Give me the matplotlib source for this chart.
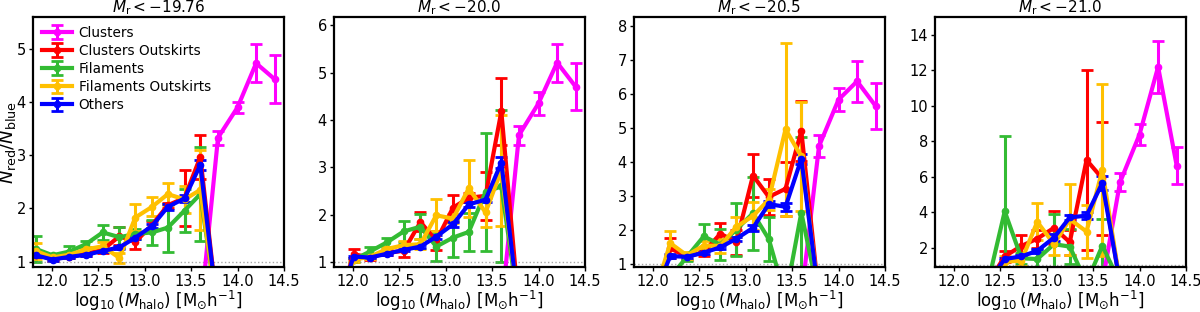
import numpy as np
import matplotlib
matplotlib.use("Agg")
import matplotlib.pyplot as plt

# halo-mass bins (log10 M_halo)
mass_bins = [11.83, 12.01, 12.19, 12.37, 12.55, 12.73, 12.90, 13.08, 13.25, 13.43, 13.60, 13.79, 14.00, 14.20, 14.40]

titles = [r"$M_{\rm r} < -19.76$", r"$M_{\rm r} < -20.0$", r"$M_{\rm r} < -20.5$", r"$M_{\rm r} < -21.0$"]
labels = ["Clusters", "Clusters Outskirts", "Filaments", "Filaments Outskirts", "Others"]
colors = ["#ff00ff", "#ff0000", "#33bb33", "#ffc000", "#0000ff"]

# ---- Panel 1: Mr < -19.76
p1_clusters     = [0, 0, 0, 0, 0, 0, 0, 0, 0, 0, 0, 3.33, 3.90, 4.73, 4.43]
p1_clusters_err = [0, 0, 0, 0, 0, 0, 0, 0, 0, 0, 0, 0.13, 0.10, 0.36, 0.45]
p1_cl_out       = [1.13, 1.05, 1.09, 1.15, 1.22, 1.48, 1.37, 1.69, 2.06, 2.20, 2.97, 0, 0, 0, 0]
p1_cl_out_err   = [0.05, 0.03, 0.03, 0.04, 0.06, 0.17, 0.14, 0.08, 0.05, 0.53, 0.42, 0, 0, 0, 0]
p1_fil          = [1.24, 1.12, 1.19, 1.33, 1.55, 1.46, 1.52, 1.55, 1.64, 1.96, 2.27, 0, 0, 0, 0]
p1_fil_err      = [0.25, 0.03, 0.10, 0.06, 0.14, 0.20, 0.10, 0.23, 0.45, 0.40, 0.88, 0, 0, 0, 0]
p1_fil_out      = [1.20, 1.08, 1.13, 1.23, 1.29, 1.07, 1.83, 2.03, 2.27, 2.17, 2.35, 0, 0, 0, 0]
p1_fil_out_err  = [0.15, 0.03, 0.04, 0.05, 0.08, 0.10, 0.25, 0.18, 0.21, 0.25, 0.75, 0, 0, 0, 0]
p1_others       = [1.12, 1.04, 1.09, 1.13, 1.20, 1.27, 1.45, 1.67, 2.03, 2.19, 2.82, 0, 0, 0, 0]
p1_others_err   = [0.03, 0.02, 0.02, 0.02, 0.02, 0.03, 0.03, 0.04, 0.05, 0.06, 0.10, 0, 0, 0, 0]

# ---- Panel 2: Mr < -20.0
p2_clusters     = [0, 0, 0, 0, 0, 0, 0, 0, 0, 0, 0, 3.68, 4.35, 5.21, 4.70]
p2_clusters_err = [0, 0, 0, 0, 0, 0, 0, 0, 0, 0, 0, 0.20, 0.25, 0.40, 0.50]
p2_cl_out       = [0, 1.17, 1.10, 1.20, 1.24, 1.85, 1.45, 2.15, 2.36, 2.40, 4.18, 0, 0, 0, 0]
p2_cl_out_err   = [0, 0.10, 0.05, 0.05, 0.12, 0.20, 0.20, 0.27, 0.10, 0.50, 0.71, 0, 0, 0, 0]
p2_fil          = [0, 1.05, 1.23, 1.42, 1.65, 1.75, 1.33, 1.52, 1.64, 2.48, 2.60, 0, 0, 0, 0]
p2_fil_err      = [0, 0.05, 0.10, 0.10, 0.22, 0.27, 0.30, 0.40, 0.40, 1.25, 1.60, 0, 0, 0, 0]
p2_fil_out      = [0, 1.05, 1.12, 1.28, 1.36, 1.38, 1.99, 1.92, 2.56, 2.05, 2.94, 0, 0, 0, 0]
p2_fil_out_err  = [0, 0.05, 0.05, 0.05, 0.08, 0.10, 0.34, 0.10, 0.60, 0.30, 1.17, 0, 0, 0, 0]
p2_others       = [0, 1.12, 1.10, 1.18, 1.26, 1.33, 1.54, 1.80, 2.22, 2.32, 3.10, 0, 0, 0, 0]
p2_others_err   = [0, 0.02, 0.02, 0.02, 0.02, 0.03, 0.04, 0.05, 0.06, 0.06, 0.12, 0, 0, 0, 0]

# ---- Panel 3: Mr < -20.5
p3_clusters     = [0, 0, 0, 0, 0, 0, 0, 0, 0, 0, 0, 4.45, 5.82, 6.36, 5.63]
p3_clusters_err = [0, 0, 0, 0, 0, 0, 0, 0, 0, 0, 0, 0.32, 0.34, 0.60, 0.68]
p3_cl_out       = [0, 0, 1.45, 1.20, 1.34, 1.88, 1.63, 3.59, 2.96, 3.20, 4.90, 0, 0, 0, 0]
p3_cl_out_err   = [0, 0, 0.30, 0.08, 0.12, 0.30, 0.37, 0.62, 0.52, 0.80, 0.88, 0, 0, 0, 0]
p3_fil          = [0, 0, 0.60, 1.20, 1.80, 1.56, 2.00, 2.48, 1.72, 0, 2.50, 0, 0, 0, 0]
p3_fil_err      = [0, 0, 0.20, 0.12, 0.35, 0.45, 0.78, 1.08, 0.65, 0, 2.22, 0, 0, 0, 0]
p3_fil_out      = [0, 0, 1.60, 1.24, 1.53, 1.52, 2.08, 2.40, 2.88, 4.95, 4.15, 0, 0, 0, 0]
p3_fil_out_err  = [0, 0, 0.35, 0.10, 0.12, 0.20, 0.30, 0.40, 0.30, 2.55, 1.60, 0, 0, 0, 0]
p3_others       = [0, 0, 1.22, 1.20, 1.32, 1.48, 1.73, 2.05, 2.75, 2.67, 4.08, 0, 0, 0, 0]
p3_others_err   = [0, 0, 0.05, 0.04, 0.05, 0.05, 0.06, 0.08, 0.10, 0.12, 0.15, 0, 0, 0, 0]

# ---- Panel 4: Mr < -21.0
p4_clusters     = [0, 0, 0, 0, 0, 0, 0, 0, 0, 0, 0, 5.68, 8.38, 12.20, 6.62]
p4_clusters_err = [0, 0, 0, 0, 0, 0, 0, 0, 0, 0, 0, 0.50, 0.60, 1.45, 1.05]
p4_cl_out       = [0, 0, 0, 0, 1.50, 2.09, 2.50, 3.11, 2.30, 6.94, 5.90, 0, 0, 0, 0]
p4_cl_out_err   = [0, 0, 0, 0, 0.30, 0.60, 0.50, 0.93, 0.70, 5.10, 3.20, 0, 0, 0, 0]
p4_fil          = [0, 0, 0, 0, 4.04, 1.39, 1.35, 2.19, 2.05, 0, 2.10, 0, 0, 0, 0]
p4_fil_err      = [0, 0, 0, 0, 4.25, 0.30, 0.50, 1.68, 1.00, 0, 1.50, 0, 0, 0, 0]
p4_fil_out      = [0, 0, 0, 0, 1.20, 1.26, 3.45, 2.19, 3.60, 2.90, 6.38, 0, 0, 0, 0]
p4_fil_out_err  = [0, 0, 0, 0, 0.30, 0.30, 1.05, 0.60, 2.00, 1.50, 4.85, 0, 0, 0, 0]
p4_others       = [0, 0, 0, 0, 1.35, 1.50, 1.81, 2.56, 3.70, 3.80, 5.65, 0, 0, 0, 0]
p4_others_err   = [0, 0, 0, 0, 0.08, 0.10, 0.12, 0.18, 0.15, 0.20, 0.40, 0, 0, 0, 0]

panels = [
    [(p1_clusters, p1_clusters_err), (p1_cl_out, p1_cl_out_err), (p1_fil, p1_fil_err), (p1_fil_out, p1_fil_out_err), (p1_others, p1_others_err)],
    [(p2_clusters, p2_clusters_err), (p2_cl_out, p2_cl_out_err), (p2_fil, p2_fil_err), (p2_fil_out, p2_fil_out_err), (p2_others, p2_others_err)],
    [(p3_clusters, p3_clusters_err), (p3_cl_out, p3_cl_out_err), (p3_fil, p3_fil_err), (p3_fil_out, p3_fil_out_err), (p3_others, p3_others_err)],
    [(p4_clusters, p4_clusters_err), (p4_cl_out, p4_cl_out_err), (p4_fil, p4_fil_err), (p4_fil_out, p4_fil_out_err), (p4_others, p4_others_err)],
]

fig = plt.figure(figsize=(12, 3.12), dpi=100)
lefts = [33, 334, 634, 935]
W, H = 1200.0, 312.0
for i, (left, series) in enumerate(zip(lefts, panels)):
    ax = fig.add_axes([left / W, 1 - 267 / H, 251 / W, (267 - 17) / H])
    ymax = 0
    for (vals, errs), lab, col in zip(series, labels, colors):
        v = np.array(vals, dtype=float)
        e = np.array(errs, dtype=float)
        ax.errorbar(mass_bins, v, yerr=e, color=col, lw=3, marker='o', ms=4.5,
                    capsize=4, elinewidth=2.2, capthick=2, label=lab)
        ymax = max(ymax, np.max(v + e))
    ax.axhline(1, color='gray', ls=':', lw=1, alpha=0.7)
    ax.set_xlim(11.8, 14.5)
    ax.set_ylim(0.9, 1.1 * ymax)
    ax.set_xticks([12.0, 12.5, 13.0, 13.5, 14.0, 14.5])
    ax.tick_params(labelsize=10.5, width=1, length=3, pad=2)
    for s in ax.spines.values():
        s.set_linewidth(1.6)
    ax.set_title(titles[i], fontsize=11, pad=3)
    ax.set_xlabel(r"$\log_{10}(M_{\rm halo})\ [{\rm M_{\odot} h^{-1}}]$", fontsize=12, labelpad=0)
    if i == 0:
        ax.set_ylabel(r"$N_{\rm red}/N_{\rm blue}$", fontsize=13, labelpad=-1)
        ax.legend(loc='upper left', frameon=False, fontsize=9.8, handlelength=2.2,
                  borderaxespad=0.25, labelspacing=0.3, handletextpad=0.5)

fig.savefig("out.png", dpi=100)
